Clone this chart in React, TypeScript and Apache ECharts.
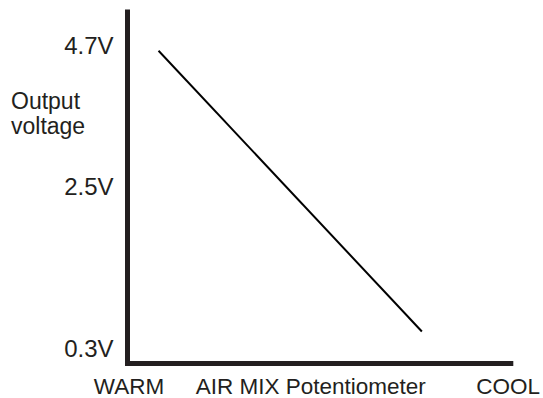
import React, { useEffect, useRef } from "react";
import * as echarts from "echarts";

const xLabels = ["WARM", "AIR MIX Potentiometer", "COOL"];
const xLabelPositions = [0.4, 47.8, 99.3];
const yLabels = ["0.3V", "2.5V", "4.7V"];
const yLabelPositions = [0.3, 2.65, 4.7];
const lineX = [8.1, 76.8];
const lineY = [4.62, 0.55];
const yAxisTitle = "Output\nvoltage";

const FONT = "'Liberation Sans', Arial, Helvetica, sans-serif";
const INK = "#231f20";

export default function App() {
  const ref = useRef<HTMLDivElement>(null);
  useEffect(() => {
    if (!ref.current) return;
    const chart = echarts.init(ref.current, undefined, { renderer: "svg" });
    chart.setOption({
      animation: false,
      backgroundColor: "#ffffff",
      grid: { left: 127.5, right: 30.5, top: 12, bottom: 34.7 },
      xAxis: {
        type: "value",
        min: 0,
        max: 100,
        splitLine: { show: false },
        axisTick: { show: false },
        axisLine: { show: true, lineStyle: { color: INK, width: 5, cap: "square" } },
        axisLabel: {
          customValues: xLabelPositions,
          formatter: (v: number) => {
            const i = xLabelPositions.indexOf(v);
            return i >= 0 ? xLabels[i] : "";
          },
          color: INK,
          fontFamily: FONT,
          fontSize: 22.5,
          margin: 12,
          showMinLabel: true,
          showMaxLabel: true,
        },
      },
      yAxis: {
        type: "value",
        min: 0.093,
        max: 5.182,
        splitLine: { show: false },
        axisTick: { show: false },
        axisLine: { show: true, lineStyle: { color: INK, width: 5, cap: "square" } },
        axisLabel: {
          customValues: yLabelPositions,
          formatter: (v: number) => {
            const i = yLabelPositions.indexOf(v);
            return i >= 0 ? yLabels[i] : "";
          },
          color: INK,
          fontFamily: FONT,
          fontSize: 24,
          margin: 14,
        },
      },
      graphic: [
        {
          type: "text",
          left: 11,
          top: 88,
          style: {
            text: yAxisTitle,
            fill: INK,
            font: `23px ${FONT}`,
            lineHeight: 25,
          },
        },
      ],
      series: [
        {
          type: "line",
          data: lineX.map((x, i) => [x, lineY[i]]),
          symbol: "none",
          lineStyle: { color: "#000000", width: 2 },
        },
      ],
    });
    return () => chart.dispose();
  }, []);
  return <div ref={ref} style={{ width: 543, height: 398, position: "absolute", left: 0, top: 0 }} />;
}
